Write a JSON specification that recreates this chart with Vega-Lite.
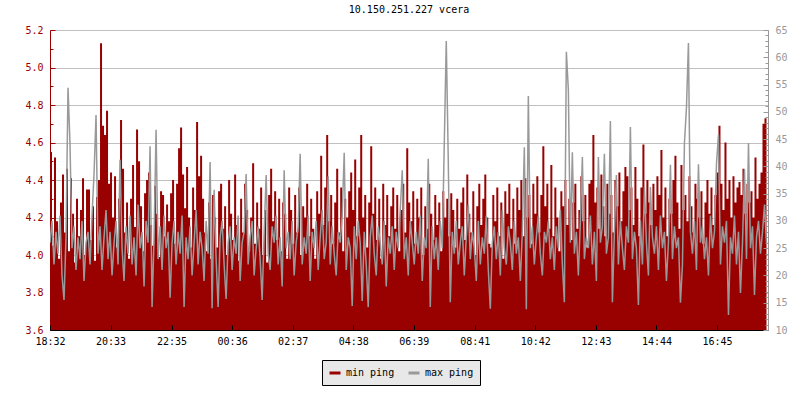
{
"$schema":"https://vega.github.io/schema/vega-lite/v6.json",
"width":718,"height":300,
"autosize":{"type":"none"},
"padding":{"left":50,"top":30,"right":32,"bottom":70},
"background":"white",
"title":{"text":"10.150.251.227 vcera","font":"DejaVu Sans Mono","fontSize":10,"fontWeight":"normal","color":"black","anchor":"middle","offset":10},
"config":{"view":{"stroke":null},"font":"DejaVu Sans Mono","axis":{"labelFont":"DejaVu Sans Mono","labelFontSize":10,"labelFlush":false,"labelOverlap":false,"labelBound":false}},
"data":{"values":[
{"t":0,"a":4.55,"b":26},{"t":4,"a":4.05,"b":30},{"t":8,"a":4.52,"b":22},{"t":12,"a":4.18,"b":28},{"t":16,"a":3.98,"b":24},{"t":20,"a":4.28,"b":31},{"t":24,"a":4.43,"b":20},{"t":28,"a":4.12,"b":15.5},{"t":32,"a":4.46,"b":27},{"t":36,"a":4.02,"b":54.4},
{"t":40,"a":4.41,"b":44},{"t":44,"a":4.22,"b":25},{"t":48,"a":3.96,"b":29},{"t":52,"a":4.30,"b":21},{"t":56,"a":4.10,"b":27},{"t":60,"a":4.24,"b":23},{"t":64,"a":4.41,"b":30},{"t":68,"a":4.00,"b":19},{"t":72,"a":4.35,"b":26},{"t":76,"a":4.35,"b":28},
{"t":80,"a":4.08,"b":22},{"t":84,"a":4.26,"b":31},{"t":88,"a":3.97,"b":38.6},{"t":92,"a":4.31,"b":49.4},{"t":96,"a":4.40,"b":24},{"t":100,"a":5.13,"b":29},{"t":104,"a":4.69,"b":21},{"t":108,"a":4.64,"b":27},{"t":112,"a":4.77,"b":32},{"t":116,"a":4.38,"b":23},
{"t":120,"a":4.44,"b":28},{"t":124,"a":4.20,"b":20},{"t":128,"a":4.42,"b":26},{"t":132,"a":4.04,"b":30},{"t":136,"a":4.30,"b":22},{"t":140,"a":4.72,"b":41.2},{"t":144,"a":4.46,"b":25},{"t":148,"a":4.12,"b":19},{"t":152,"a":4.28,"b":29},{"t":156,"a":3.98,"b":24},
{"t":160,"a":4.30,"b":31},{"t":164,"a":4.48,"b":22},{"t":168,"a":4.15,"b":27},{"t":172,"a":4.67,"b":20},{"t":176,"a":4.50,"b":33},{"t":180,"a":4.26,"b":25},{"t":184,"a":4.02,"b":28},{"t":188,"a":4.33,"b":18},{"t":192,"a":4.40,"b":30},{"t":196,"a":4.44,"b":26},
{"t":200,"a":4.16,"b":43.7},{"t":204,"a":4.05,"b":14.2},{"t":208,"a":4.37,"b":27},{"t":212,"a":4.22,"b":46.7},{"t":216,"a":3.99,"b":23},{"t":220,"a":4.34,"b":29},{"t":224,"a":4.32,"b":21},{"t":228,"a":4.10,"b":31},{"t":232,"a":4.27,"b":25},{"t":236,"a":4.18,"b":28},
{"t":240,"a":4.33,"b":15.9},{"t":244,"a":4.40,"b":26},{"t":248,"a":4.06,"b":30},{"t":252,"a":4.38,"b":22},{"t":256,"a":4.57,"b":28},{"t":260,"a":4.68,"b":24},{"t":264,"a":4.43,"b":31},{"t":268,"a":4.25,"b":14.2},{"t":272,"a":4.47,"b":27},{"t":276,"a":4.20,"b":23},
{"t":280,"a":4.04,"b":29},{"t":284,"a":4.36,"b":20},{"t":288,"a":4.24,"b":26},{"t":292,"a":4.71,"b":32},{"t":296,"a":4.42,"b":22},{"t":300,"a":4.53,"b":28},{"t":304,"a":4.30,"b":25},{"t":308,"a":4.12,"b":19},{"t":312,"a":4.02,"b":30},{"t":316,"a":4.28,"b":24},
{"t":320,"a":3.98,"b":40.8},{"t":324,"a":4.32,"b":14},{"t":328,"a":4.20,"b":35.7},{"t":332,"a":4.04,"b":23},{"t":336,"a":4.34,"b":14.2},{"t":340,"a":4.38,"b":27},{"t":344,"a":4.14,"b":30},{"t":348,"a":4.26,"b":22},{"t":352,"a":4.00,"b":15.7},{"t":356,"a":4.40,"b":26},
{"t":360,"a":4.22,"b":29},{"t":364,"a":4.08,"b":21},{"t":368,"a":4.43,"b":27},{"t":372,"a":4.16,"b":24},{"t":376,"a":3.97,"b":31},{"t":380,"a":4.30,"b":19},{"t":384,"a":4.12,"b":26},{"t":388,"a":4.38,"b":28},{"t":392,"a":4.24,"b":38.6},{"t":396,"a":4.02,"b":22},
{"t":400,"a":4.20,"b":27},{"t":404,"a":4.49,"b":30},{"t":408,"a":4.06,"b":20},{"t":412,"a":4.28,"b":25},{"t":416,"a":4.14,"b":29},{"t":420,"a":4.36,"b":23},{"t":424,"a":4.00,"b":15.5},{"t":428,"a":4.24,"b":28},{"t":432,"a":3.96,"b":38.4},{"t":436,"a":4.32,"b":24},
{"t":440,"a":4.46,"b":21},{"t":444,"a":4.18,"b":29},{"t":448,"a":4.34,"b":26},{"t":452,"a":4.08,"b":31},{"t":456,"a":4.30,"b":22},{"t":460,"a":4.02,"b":27},{"t":464,"a":4.28,"b":18},{"t":468,"a":4.22,"b":39.3},{"t":472,"a":3.98,"b":25},{"t":476,"a":4.36,"b":28},
{"t":480,"a":4.24,"b":23},{"t":484,"a":4.06,"b":30},{"t":488,"a":4.32,"b":20},{"t":492,"a":4.12,"b":26},{"t":496,"a":4.36,"b":29},{"t":500,"a":4.00,"b":42.3},{"t":504,"a":4.26,"b":22},{"t":508,"a":4.20,"b":27},{"t":512,"a":4.38,"b":24},{"t":516,"a":4.10,"b":31},
{"t":520,"a":4.30,"b":19},{"t":524,"a":4.14,"b":28},{"t":528,"a":3.98,"b":25},{"t":532,"a":4.34,"b":30},{"t":536,"a":4.22,"b":21},{"t":540,"a":4.53,"b":27},{"t":544,"a":4.16,"b":32},{"t":548,"a":4.36,"b":23},{"t":552,"a":4.64,"b":26},{"t":556,"a":4.18,"b":38.2},
{"t":560,"a":4.32,"b":22},{"t":564,"a":4.06,"b":29},{"t":568,"a":4.28,"b":24},{"t":572,"a":4.46,"b":20},{"t":576,"a":4.12,"b":28},{"t":580,"a":4.36,"b":26},{"t":584,"a":4.02,"b":31},{"t":588,"a":4.30,"b":42.5},{"t":592,"a":4.20,"b":21},{"t":596,"a":4.34,"b":27},
{"t":600,"a":4.44,"b":25},{"t":604,"a":4.24,"b":14.4},{"t":608,"a":4.51,"b":29},{"t":612,"a":4.10,"b":23},{"t":616,"a":4.36,"b":30},{"t":620,"a":4.64,"b":26},{"t":624,"a":4.20,"b":15.3},{"t":628,"a":4.32,"b":28},{"t":632,"a":4.04,"b":22},{"t":636,"a":4.28,"b":14.2},
{"t":640,"a":4.58,"b":27},{"t":644,"a":4.22,"b":31},{"t":648,"a":4.36,"b":24},{"t":652,"a":4.08,"b":20},{"t":656,"a":4.30,"b":29},{"t":660,"a":3.98,"b":26},{"t":664,"a":4.38,"b":22},{"t":668,"a":4.16,"b":30},{"t":672,"a":4.32,"b":18},{"t":676,"a":4.10,"b":27},
{"t":680,"a":4.26,"b":24},{"t":684,"a":4.36,"b":29},{"t":688,"a":4.14,"b":21},{"t":692,"a":4.32,"b":28},{"t":696,"a":4.02,"b":25},{"t":700,"a":4.24,"b":32},{"t":704,"a":4.38,"b":39.3},{"t":708,"a":4.12,"b":23},{"t":712,"a":4.57,"b":27},{"t":716,"a":4.28,"b":20},
{"t":720,"a":4.18,"b":30},{"t":724,"a":4.34,"b":26},{"t":728,"a":4.06,"b":22},{"t":732,"a":4.30,"b":28},{"t":736,"a":4.20,"b":24},{"t":740,"a":4.36,"b":31},{"t":744,"a":4.00,"b":19},{"t":748,"a":4.26,"b":27},{"t":752,"a":4.14,"b":25},{"t":756,"a":4.38,"b":41.4},
{"t":760,"a":4.22,"b":14.2},{"t":764,"a":4.08,"b":29},{"t":768,"a":4.32,"b":23},{"t":772,"a":4.16,"b":27},{"t":776,"a":4.28,"b":21},{"t":780,"a":4.02,"b":30},{"t":784,"a":4.34,"b":25},{"t":788,"a":4.20,"b":44.2},{"t":792,"a":4.30,"b":63},{"t":796,"a":4.10,"b":41},
{"t":800,"a":4.33,"b":15.1},{"t":804,"a":4.24,"b":28},{"t":808,"a":4.04,"b":24},{"t":812,"a":4.30,"b":30},{"t":816,"a":4.14,"b":22},{"t":820,"a":4.28,"b":26},{"t":824,"a":4.36,"b":29},{"t":828,"a":4.08,"b":20},{"t":832,"a":4.43,"b":27},{"t":836,"a":4.22,"b":33},
{"t":840,"a":4.12,"b":23},{"t":844,"a":4.34,"b":28},{"t":848,"a":4.00,"b":25},{"t":852,"a":4.26,"b":19},{"t":856,"a":4.38,"b":30},{"t":860,"a":4.16,"b":22},{"t":864,"a":4.30,"b":27},{"t":868,"a":4.43,"b":24},{"t":872,"a":4.20,"b":31},{"t":876,"a":4.06,"b":21},
{"t":880,"a":4.04,"b":13.9},{"t":884,"a":4.32,"b":26},{"t":888,"a":4.18,"b":29},{"t":892,"a":4.36,"b":23},{"t":896,"a":4.10,"b":28},{"t":900,"a":4.28,"b":20},{"t":904,"a":3.98,"b":32},{"t":908,"a":4.34,"b":25},{"t":912,"a":4.22,"b":22},{"t":916,"a":4.38,"b":29},
{"t":920,"a":4.14,"b":26},{"t":924,"a":4.30,"b":21},{"t":928,"a":4.06,"b":30},{"t":932,"a":4.36,"b":24},{"t":936,"a":4.24,"b":27},{"t":940,"a":4.40,"b":19},{"t":944,"a":4.10,"b":28},{"t":948,"a":4.41,"b":43.5},{"t":952,"a":4.20,"b":13.8},{"t":956,"a":4.32,"b":52.9},
{"t":960,"a":4.06,"b":25},{"t":964,"a":4.38,"b":29},{"t":968,"a":4.22,"b":22},{"t":972,"a":4.42,"b":27},{"t":976,"a":4.12,"b":31},{"t":980,"a":4.32,"b":24},{"t":984,"a":4.58,"b":20},{"t":988,"a":4.26,"b":28},{"t":992,"a":4.38,"b":26},{"t":996,"a":4.14,"b":30},
{"t":1000,"a":4.48,"b":23},{"t":1004,"a":4.10,"b":27},{"t":1008,"a":4.36,"b":21},{"t":1012,"a":4.20,"b":29},{"t":1016,"a":4.02,"b":25},{"t":1020,"a":4.34,"b":32},{"t":1024,"a":4.26,"b":22},{"t":1028,"a":4.40,"b":15.1},{"t":1032,"a":4.16,"b":61},{"t":1036,"a":4.30,"b":54},
{"t":1040,"a":4.08,"b":26},{"t":1044,"a":4.28,"b":42.6},{"t":1048,"a":4.38,"b":24},{"t":1052,"a":4.14,"b":28},{"t":1056,"a":4.24,"b":20},{"t":1060,"a":4.42,"b":30},{"t":1064,"a":4.18,"b":41.7},{"t":1068,"a":4.32,"b":23},{"t":1072,"a":4.04,"b":27},{"t":1076,"a":4.38,"b":25},
{"t":1080,"a":4.40,"b":31},{"t":1084,"a":4.64,"b":22},{"t":1088,"a":4.28,"b":28},{"t":1092,"a":4.36,"b":19},{"t":1096,"a":4.14,"b":41.7},{"t":1100,"a":4.43,"b":26},{"t":1104,"a":4.26,"b":29},{"t":1108,"a":4.10,"b":42.3},{"t":1112,"a":4.38,"b":24},{"t":1116,"a":4.22,"b":27},
{"t":1120,"a":4.32,"b":48.3},{"t":1124,"a":4.12,"b":15.1},{"t":1128,"a":4.40,"b":28},{"t":1132,"a":4.26,"b":38.4},{"t":1136,"a":4.44,"b":22},{"t":1140,"a":4.18,"b":30},{"t":1144,"a":4.34,"b":25},{"t":1148,"a":4.47,"b":21},{"t":1152,"a":4.42,"b":29},{"t":1156,"a":4.24,"b":26},
{"t":1160,"a":4.36,"b":47.2},{"t":1164,"a":4.16,"b":23},{"t":1168,"a":4.47,"b":28},{"t":1172,"a":4.30,"b":25},{"t":1176,"a":4.10,"b":14.6},{"t":1180,"a":4.36,"b":30},{"t":1184,"a":4.59,"b":22},{"t":1188,"a":4.22,"b":36.2},{"t":1192,"a":4.40,"b":26},{"t":1196,"a":4.28,"b":20},
{"t":1200,"a":4.16,"b":36.2},{"t":1204,"a":4.38,"b":27},{"t":1208,"a":4.24,"b":24},{"t":1212,"a":4.42,"b":29},{"t":1216,"a":4.32,"b":21},{"t":1220,"a":4.56,"b":31},{"t":1224,"a":4.20,"b":25},{"t":1228,"a":4.36,"b":28},{"t":1232,"a":4.10,"b":19},{"t":1236,"a":4.30,"b":26},
{"t":1240,"a":4.22,"b":40.3},{"t":1244,"a":4.40,"b":23},{"t":1248,"a":4.53,"b":29},{"t":1252,"a":4.28,"b":25},{"t":1256,"a":4.14,"b":27},{"t":1260,"a":4.48,"b":15},{"t":1264,"a":4.24,"b":22},{"t":1268,"a":4.32,"b":44.3},{"t":1272,"a":4.18,"b":50.7},{"t":1276,"a":4.42,"b":62.6},
{"t":1280,"a":4.26,"b":28},{"t":1284,"a":4.12,"b":24},{"t":1288,"a":4.38,"b":30},{"t":1292,"a":4.30,"b":21},{"t":1296,"a":4.20,"b":40.4},{"t":1300,"a":4.34,"b":26},{"t":1304,"a":4.06,"b":29},{"t":1308,"a":4.28,"b":23},{"t":1312,"a":4.40,"b":27},{"t":1316,"a":4.22,"b":20},
{"t":1320,"a":4.36,"b":31},{"t":1324,"a":4.16,"b":25},{"t":1328,"a":4.32,"b":28},{"t":1332,"a":4.44,"b":40.4},{"t":1336,"a":4.69,"b":45.8},{"t":1340,"a":4.38,"b":22},{"t":1344,"a":4.24,"b":29},{"t":1348,"a":4.60,"b":26},{"t":1352,"a":4.30,"b":30},{"t":1356,"a":4.40,"b":12.75},
{"t":1360,"a":4.20,"b":27},{"t":1364,"a":4.42,"b":24},{"t":1368,"a":4.28,"b":31},{"t":1372,"a":4.36,"b":22},{"t":1376,"a":4.39,"b":28},{"t":1380,"a":4.32,"b":16.8},{"t":1384,"a":4.46,"b":26},{"t":1388,"a":4.22,"b":39.5},{"t":1392,"a":4.38,"b":23},{"t":1396,"a":4.28,"b":44.3},
{"t":1400,"a":4.34,"b":25},{"t":1404,"a":4.20,"b":29},{"t":1408,"a":4.52,"b":16.4},{"t":1412,"a":4.30,"b":27},{"t":1416,"a":4.38,"b":30},{"t":1420,"a":4.44,"b":24},{"t":1424,"a":4.70,"b":28},{"t":1428,"a":4.73,"b":33},{"t":1432,"a":4.26,"b":26}
]},
"encoding":{"x":{"field":"t","type":"quantitative","scale":{"domain":[0,1435],"nice":false,"zero":false},
 "axis":{"title":null,"values":[0,121,243,364,485,606,727,849,970,1091,1212,1333],"labelExpr":"timeFormat(datetime(2000,0,1,18,32+datum.value,0),'%H:%M')","grid":false,"domainColor":"black","tickColor":"black","tickSize":-5,"labelColor":"black","labelPadding":11,"zindex":1}}},
"layer":[
 {"mark":{"type":"area","interpolate":"step-after","clip":true},
  "encoding":{
   "y":{"field":"a","type":"quantitative","scale":{"domain":[3.6,5.2],"nice":false,"zero":false},
    "axis":{"title":null,"orient":"left","values":[3.6,3.7,3.8,3.9,4.0,4.1,4.2,4.3,4.4,4.5,4.6,4.7,4.8,4.9,5.0,5.1,5.2],
     "labelExpr":"round(datum.value*10)%2==0 ? format(datum.value,'.1f') : ''",
     "grid":true,"gridColor":"#c0c0c0","gridOpacity":{"condition":{"test":"round(datum.value*10)%2==0","value":1},"value":0},
     "domainColor":"#990000","tickColor":"#990000","labelColor":"#990000",
     "tickSize":{"condition":{"test":"round(datum.value*10)%2==0","value":-5},"value":-3},
     "labelPadding":12,"zindex":0}},
   "color":{"datum":"min ping","scale":{"domain":["min ping","max ping"],"range":["#990000","#999999"]},
    "legend":{"title":null,"orient":"none","legendX":272,"legendY":330,"direction":"horizontal","symbolType":"stroke","symbolStrokeWidth":3,"symbolSize":121,"fillColor":"#e8e8e8","strokeColor":"black","padding":6,"labelFont":"DejaVu Sans Mono","labelFontSize":10,"labelColor":"black","columnPadding":7,"labelOffset":4,
     "encode":{"symbols":{"update":{"stroke":{"scale":"color","field":"value"},"strokeWidth":{"value":3}}}}}}}},
 {"mark":{"type":"line","strokeWidth":1.5,"clip":true},
  "encoding":{
   "y":{"field":"b","type":"quantitative","scale":{"domain":[10,65],"nice":false,"zero":false},
    "axis":{"title":null,"orient":"right","values":[10,11,12,13,14,15,16,17,18,19,20,21,22,23,24,25,26,27,28,29,30,31,32,33,34,35,36,37,38,39,40,41,42,43,44,45,46,47,48,49,50,51,52,53,54,55,56,57,58,59,60,61,62,63,64,65],
     "labelExpr":"datum.value%5==0 ? datum.value : ''","grid":false,
     "domainColor":"#999999","tickColor":"#999999","labelColor":"#999999",
     "tickSize":{"condition":{"test":"datum.value%5==0","value":-5},"value":-3},
     "labelPadding":12,"zindex":1}},
   "color":{"datum":"max ping"}}}
],
"resolve":{"scale":{"y":"independent"}}
}
